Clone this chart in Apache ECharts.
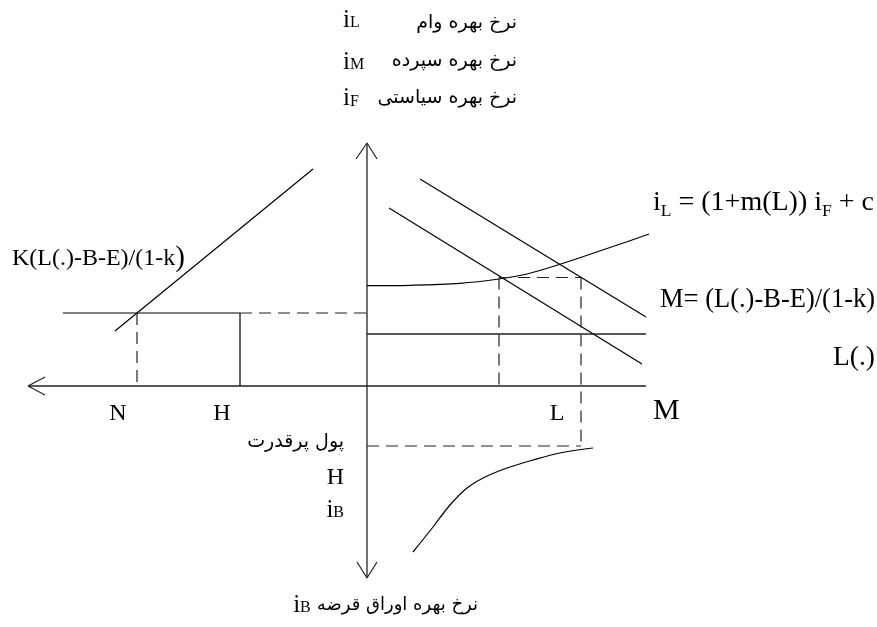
<!DOCTYPE html>
<html>
<head>
<meta charset="utf-8">
<script src="https://cdn.jsdelivr.net/npm/echarts@6/dist/echarts.min.js"></script>
<style>html,body{margin:0;padding:0;background:#fff}#c{width:877px;height:627px}</style>
</head>
<body>
<div id="c"></div>
<script>
// ---------- Data (schematic units, origin at the axes crossing) ----------
const axisH        = [[-339, 0], [279, 0]];
const axisV        = [[0, 243], [0, -192]];
const arrowLeft    = [[-322, 9], [-339, 0], [-322, -9]];
const arrowTop     = [[-11, 227], [0, 243], [10, 227]];
const arrowBottom  = [[-10, -176], [0, -192], [10, -176]];
const reserveLine  = [[-252, 55], [-54, 217]];          // K(L(.)-B-E)/(1-k)
const hLineLeft    = [[-304, 73], [-127, 73]];
const hDashLeft    = [[-127, 73], [0, 73]];
const vDashN       = [[-230, 73], [-230, 0]];
const vSolidH      = [[-127, 73], [-127, 0]];
const iLCurve      = [[0, 100.3], [43, 100.7], [93, 102.7], [132, 107], [160, 112], [193, 121.7], [226, 132.7], [260, 144.3], [282, 152]];
const demandUpper  = [[53, 207], [279, 69]];
const demandLower  = [[22, 178], [275, 22]];
const hLineRight   = [[0, 52], [279, 52]];
const dashRectTop  = [[132, 108.5], [214, 108.5]];
const dashV1       = [[132, 108.5], [132, 0]];
const dashV2       = [[214, 108.5], [214, -60]];
const dashBottom   = [[0, -60], [214, -60]];
const bondCurve    = [[46, -166], [66, -141], [83, -119], [100, -102], [116, -92], [140, -82], [166, -74], [193, -67], [226, -62]];

// ---------- Texts ----------
const faLoan    = 'نرخ بهره وام';
const faDeposit = 'نرخ بهره سپرده';
const faPolicy  = 'نرخ بهره سیاستی';
const faHPM     = 'پول پرقدرت';
const faBond    = 'نرخ بهره اوراق قرضه';

const SERIF = '"Liberation Serif", "Times New Roman", serif';
const FA = '"DejaVu Sans", sans-serif';
const FAS = 19;
const FAB = 18;

const mctx = document.createElement('canvas').getContext('2d');
function measure(t, font) { mctx.font = font; return mctx.measureText(t).width; }

// pieces: [text, size, dy, family]
function run(pieces, x, yb, align) {
  const fonts = pieces.map(p => p[1] + 'px ' + (p[3] || SERIF));
  const widths = pieces.map((p, i) => measure(p[0], fonts[i]));
  const total = widths.reduce((a, b) => a + b, 0);
  let cx = align === 'right' ? x - total : (align === 'center' ? x - total / 2 : x);
  const els = [];
  pieces.forEach((p, i) => {
    const size = p[1];
    const base = yb + (p[2] || 0);
    els.push({
      type: 'text', x: cx, y: base - 0.31 * size, silent: true,
      style: { text: p[0], font: fonts[i], fill: '#000', align: 'left', verticalAlign: 'middle' }
    });
    cx += widths[i];
  });
  return els;
}

const texts = [].concat(
  run([['i', 25], ['L', 16]], 343, 28),
  run([[faLoan, FAS, 0, FA]], 517, 29, 'right'),
  run([['i', 25], ['M', 16]], 343, 70),
  run([[faDeposit, FAS, 0, FA]], 517, 67, 'right'),
  run([['i', 25], ['F', 16]], 343, 106.5),
  run([[faPolicy, FAS, 0, FA]], 517, 104, 'right'),
  run([['K(L(.)-B-E)/(1-k', 24], [')', 29, 1]], 12, 266.5),
  run([['N', 24]], 118, 421.5, 'center'),
  run([['H', 24]], 222, 421.5, 'center'),
  run([['L', 24]], 557, 421, 'center'),
  run([['M', 30]], 653, 420),
  run([['i', 28], ['L', 17.5, 5], [' = (1+m(L)) ', 28], ['i', 28], ['F', 17.5, 5], [' + c', 28]], 653, 211.5),
  run([['M= (L(.)-B-E)/(1-k)', 26.5]], 660, 308),
  run([['L(.)', 27.5]], 875, 366.5, 'right'),
  run([[faHPM, FAS, 0, FA]], 344, 448, 'right'),
  run([['H', 24]], 344, 485, 'right'),
  run([['i', 25], ['B', 16]], 344, 518, 'right'),
  run([[faBond, FAB, 0, FA]], 478, 611, 'right')
);
// i_B before the bond label
(function () {
  const w = measure(faBond, FAB + 'px ' + FA);
  texts.push.apply(texts, run([['i', 25], ['B', 16]], 478 - w - 6, 613, 'right'));
})();

function seg(data, dashed, smooth, color, width) {
  return {
    type: 'line', data: data, symbol: 'none', smooth: smooth ? 0.35 : false,
    silent: true, animation: false, clip: false,
    lineStyle: { color: color || '#000', width: width || 1.2, type: dashed ? [12, 7] : 'solid' }
  };
}

const chart = echarts.init(document.getElementById('c'), null, { renderer: 'canvas' });
chart.setOption({
  animation: false,
  backgroundColor: '#fff',
  grid: { left: 0, right: 0, top: 0, bottom: 0 },
  xAxis: { type: 'value', min: -367, max: 510, show: false },
  yAxis: { type: 'value', min: -241, max: 386, show: false },
  series: [
    seg(axisH, false, false, '#222', 1.5),
    seg(axisV, false, false, '#222', 1.3),
    seg(arrowLeft, false, false, '#222', 1.2),
    seg(arrowTop, false, false, '#222', 1.2),
    seg(arrowBottom, false, false, '#222', 1.2),
    seg(reserveLine),
    seg(hLineLeft),
    seg(hDashLeft, true, false, '#222'),
    seg(vDashN, true, false, '#222'),
    seg(vSolidH),
    seg(iLCurve, false, true),
    seg(demandUpper),
    seg(demandLower),
    seg(hLineRight, false, false, '#222', 1.3),
    seg(dashRectTop, true, false, '#222'),
    seg(dashV1, true, false, '#222'),
    seg(dashV2, true, false, '#222'),
    seg(dashBottom, true, false, '#222'),
    seg(bondCurve, false, true)
  ],
  graphic: { elements: texts }
});
</script>
</body>
</html>
